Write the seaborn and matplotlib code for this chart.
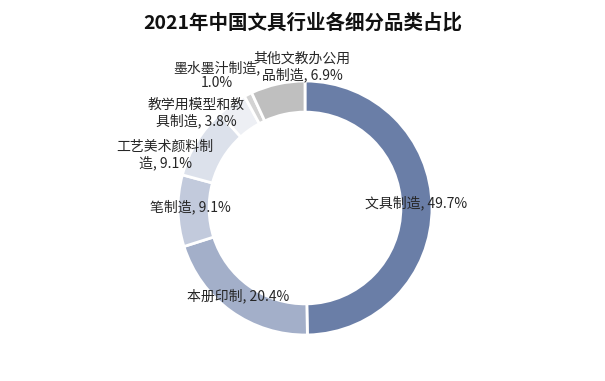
import numpy as np
import matplotlib.pyplot as plt
import seaborn as sns

sns.set_theme(style="white")
plt.rcParams['font.family'] = ['Noto Sans CJK SC', 'DejaVu Sans']

# 数据
categories = ['文具制造', '本册印制', '笔制造', '工艺美术颜料制造',
              '教学用模型和教具制造', '墨水墨汁制造', '其他文教办公用品制造']
shares = [49.7, 20.4, 9.1, 9.1, 3.8, 1.0, 6.9]
label_texts = ['文具制造, 49.7%', '本册印制, 20.4%', '笔制造, 9.1%',
               '工艺美术颜料制\n造, 9.1%', '教学用模型和教\n具制造, 3.8%',
               '墨水墨汁制造,\n1.0%', '其他文教办公用\n品制造, 6.9%']

colors = ['#6A7EA7', '#A3AFC9', '#C2CADC', '#DCE1EB', '#EDEFF4', '#D3D3D3', '#BFBFBF']
# posizioni delle etichette (in unita' del raggio)
label_pos = [(0.874, 0.039), (-0.528, -0.693), (-0.906, 0.008), (-1.102, 0.417),
             (-0.858, 0.748), (-0.693, 1.047), (-0.024, 1.11)]

W, H, R = 605, 381, 127
cx, cy = 305, 208
fig = plt.figure(figsize=(W / 100, H / 100), dpi=100)
ax = fig.add_axes([0, 0, 1, 1])
ax.pie(shares, colors=colors, startangle=90, counterclock=False, radius=1,
       wedgeprops=dict(width=0.245, edgecolor='white', linewidth=2))
ax.set_xlim(-cx / R, (W - cx) / R)
ax.set_ylim(-(H - cy) / R, cy / R)
ax.set_aspect('auto')
ax.axis('off')

for txt, (x, y) in zip(label_texts, label_pos):
    ax.text(x, y, txt, ha='center', va='center', fontsize=10, color='#262626',
            linespacing=1.1)

fig.text(0.5, 1 - 23 / H, '2021年中国文具行业各细分品类占比', ha='center', va='center',
         fontsize=14, fontweight='bold', color='#111111')

fig.savefig('out.png', dpi=100)
